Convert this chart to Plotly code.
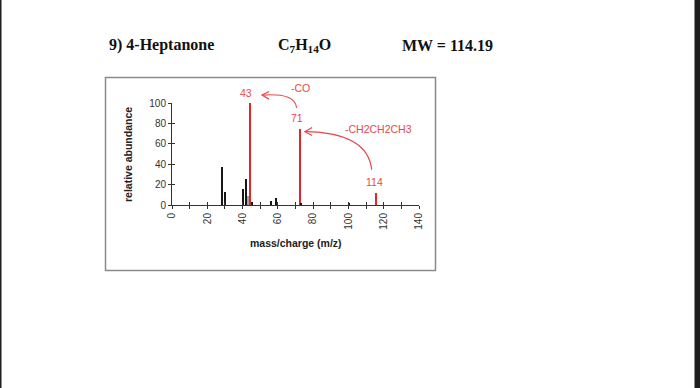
import plotly.graph_objects as go

# ---------------- data ----------------
mz = [27, 29, 39, 41, 42, 43, 44, 55, 58, 71, 72, 99, 114]
abundance = [37.5, 12.5, 15.5, 25.5, 9, 100, 3, 4, 6.5, 74.5, 2, 2, 12]
bar_kind = ["k", "k", "k", "k", "g", "r", "k", "k", "k", "r", "k", "k", "r"]
x_tick_values = [0, 20, 40, 60, 80, 100, 120, 140]
x_tick_labels = ["0", "20", "40", "60", "80", "100", "120", "140"]
x_minor_values = [10, 30, 50, 70, 90, 110, 130]
y_tick_values = [0, 20, 40, 60, 80, 100]
y_tick_labels = ["0", "20", "40", "60", "80", "100"]

title_name = "9) 4-Heptanone"
title_formula = "C<sub>7</sub>H<sub>14</sub>O"
title_mw = "MW = 114.19"

# ---------------- style ----------------
W, H = 700, 388
PL, PR = 172, 419      # plot area pixels (x)
PT, PB = 103, 205      # plot area pixels (y)
XR = (0, 140)
YR = (0, 100)
RED = "#e2262c"
RED_T = "#e8474c"
AX = "#333333"
colmap = {"k": "#161616", "g": "#a8a19e", "r": RED}
widmap = {"k": 0.9, "g": 0.9, "r": 1.2}


def px_x(p):
    return (p - PL) / (PR - PL)


def px_y(p):
    return (PB - p) / (PB - PT)


def dx(v):
    return (v - XR[0]) / (XR[1] - XR[0])


def dy(v):
    return (v - YR[0]) / (YR[1] - YR[0])


fig = go.Figure()
fig.add_trace(go.Bar(
    x=mz, y=abundance,
    marker=dict(color=[colmap[k] for k in bar_kind], line=dict(width=0)),
    width=[widmap[k] for k in bar_kind],
    offset=[0.8 for _ in mz],
    hoverinfo="x+y", showlegend=False,
))
# companion axes for the inner half of the crossing ticks
fig.add_trace(go.Scatter(x=[None], y=[None], xaxis="x2", yaxis="y2",
                         showlegend=False, hoverinfo="skip"))

tickfont = dict(family="Liberation Sans, Arial", size=10, color=AX)
fig.update_layout(
    width=W, height=H, autosize=False,
    margin=dict(l=PL, r=W - PR, t=PT, b=H - PB, pad=0),
    paper_bgcolor="#1e1e1e", plot_bgcolor="white",
    bargap=0,
    xaxis=dict(range=list(XR), tickmode="array", tickvals=x_tick_values,
               ticktext=x_tick_labels, tickangle=-90, ticks="outside",
               ticklen=3, tickwidth=1, tickcolor=AX, showline=True,
               linecolor=AX, linewidth=1, showgrid=False, zeroline=False,
               minor=dict(tickvals=x_minor_values, ticks="outside", ticklen=3,
                          tickwidth=1, tickcolor=AX, showgrid=False),
               tickfont=tickfont, fixedrange=True),
    yaxis=dict(range=list(YR), tickmode="array", tickvals=y_tick_values,
               ticktext=y_tick_labels, ticks="outside", ticklen=3,
               tickwidth=1, tickcolor=AX, showline=True, linecolor=AX,
               linewidth=1, showgrid=False, zeroline=False,
               tickfont=tickfont, fixedrange=True),
    xaxis2=dict(range=list(XR), overlaying="x", anchor="y2", side="bottom",
                tickmode="array", tickvals=x_tick_values + x_minor_values,
                ticks="inside", ticklen=3, tickcolor=AX, showticklabels=False,
                showline=False, showgrid=False, zeroline=False, fixedrange=True),
    yaxis2=dict(range=list(YR), overlaying="y", anchor="x2", side="left",
                tickmode="array", tickvals=y_tick_values, ticks="inside",
                ticklen=3, tickcolor=AX, showticklabels=False,
                showline=False, showgrid=False, zeroline=False, fixedrange=True),
)

shapes = []
# white page between the dark edges
shapes.append(dict(type="rect", xref="paper", yref="paper",
                   x0=px_x(1.5), x1=px_x(694.5), y0=px_y(H + 5), y1=px_y(-5),
                   fillcolor="white", line=dict(width=0), layer="below"))
# chart frame
shapes.append(dict(type="rect", xref="paper", yref="paper",
                   x0=px_x(105.5), x1=px_x(435.5), y0=px_y(270.5), y1=px_y(77.5),
                   fillcolor="rgba(0,0,0,0)", line=dict(color="#8a8a8a", width=1.5),
                   layer="below"))


def qpath(p0, c, p1):
    return "M {} {} Q {} {} {} {}".format(dx(p0[0]), dy(p0[1]), dx(c[0]), dy(c[1]),
                                         dx(p1[0]), dy(p1[1]))


def head(a, tip, b):
    return "M {} {} L {} {} L {} {}".format(dx(a[0]), dy(a[1]), dx(tip[0]), dy(tip[1]),
                                           dx(b[0]), dy(b[1]))


arrow_line = dict(color=RED_T, width=1.2)
# 71 -> 43 (-CO)
shapes.append(dict(type="path", xref="paper", yref="paper",
                   path=qpath((70.6, 95.0), (70.3, 110.0), (51.5, 107.8)), line=arrow_line))
shapes.append(dict(type="path", xref="paper", yref="paper",
                   path=head((55.0, 111.3), (51.0, 107.8), (55.0, 103.8)), line=arrow_line))
# 114 -> 71 (-CH2CH2CH3)
shapes.append(dict(type="path", xref="paper", yref="paper",
                   path=qpath((113.2, 34.5), (111.0, 70.8), (75.8, 71.9)), line=arrow_line))
shapes.append(dict(type="path", xref="paper", yref="paper",
                   path=head((79.4, 75.9), (75.3, 71.9), (79.4, 68.2)), line=arrow_line))
fig.update_layout(shapes=shapes)

ann = []
serif = dict(family="Liberation Serif, Times New Roman", size=16, color="#111111")
ann.append(dict(text="<b>" + title_name + "</b>", xref="paper", yref="paper",
                x=px_x(107), y=px_y(45), xanchor="left", yanchor="middle",
                showarrow=False, font=serif))
ann.append(dict(text="<b>" + title_formula + "</b>", xref="paper", yref="paper",
                x=px_x(304), y=px_y(45), xanchor="center", yanchor="middle",
                showarrow=False, font=serif))
ann.append(dict(text="<b>" + title_mw + "</b>", xref="paper", yref="paper",
                x=px_x(447), y=px_y(45), xanchor="center", yanchor="middle",
                showarrow=False, font=serif))
sans_b = dict(family="Liberation Sans, Arial", size=10.5, color="#222222")
ann.append(dict(text="<b>mass/charge (m/z)</b>", xref="paper", yref="paper",
                x=px_x(296), y=px_y(243), xanchor="center", yanchor="middle",
                showarrow=False, font=sans_b))
ann.append(dict(text="<b>relative abundance</b>", xref="paper", yref="paper",
                x=px_x(128), y=px_y(155), xanchor="center", yanchor="middle",
                textangle=-90, showarrow=False, font=sans_b))
redf = dict(family="Liberation Sans, Arial", size=10.5, color=RED_T)
for txt, xv, yv in [("43", 42.0, 109.5), ("-CO", 72.8, 114.5), ("71", 71.0, 85.5),
                    ("-CH2CH2CH3", 117.0, 74.5), ("114", 115.0, 22.5)]:
    ann.append(dict(text=txt, xref="paper", yref="paper", x=dx(xv), y=dy(yv),
                    xanchor="center", yanchor="middle", showarrow=False, font=redf))
fig.update_layout(annotations=ann)

fig.write_html("out.html", config={"displayModeBar": False},
               post_script="document.body.style.margin='0px';"
                           "document.body.style.padding='0px';"
                           "document.body.style.overflow='hidden';"
                           "document.body.style.background='#1e1e1e';")
